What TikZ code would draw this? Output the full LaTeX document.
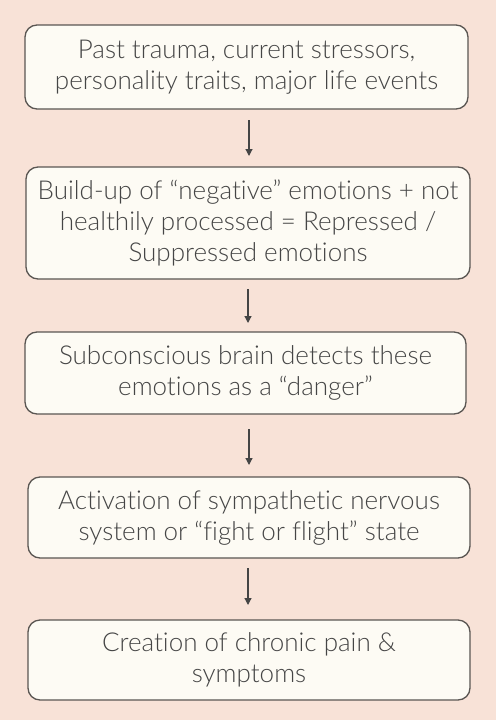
\documentclass[tikz,border=0pt]{standalone}
\usepackage{fontspec}
\setmainfont{Lato Light}[Ligatures=NoCommon]
\usetikzlibrary{arrows.meta}
\definecolor{bgpeach}{HTML}{F8E2D7}
\definecolor{boxfill}{HTML}{FDFBF4}
\definecolor{boxline}{HTML}{5A5652}
\definecolor{txt}{HTML}{454545}
\tikzset{
  stepbox/.style={draw=boxline, line width=1.3pt, fill=boxfill, rounded corners=12pt,
    text=txt, align=center, inner sep=0pt,
    font=\fontsize{26}{31}\selectfont},
  flowarrow/.style={draw=txt, line width=1.2pt, -{Triangle[length=7pt,width=7pt]}}
}
\begin{document}
\begin{tikzpicture}[x=1pt,y=-1pt]
\fill[bgpeach] (0,0) rectangle (496,720);
\useasboundingbox (0,0) rectangle (496,720);
\node[stepbox, minimum width=443pt, minimum height=84pt] (b1) at (246.5,67)
  {Past trauma, current stressors,\\personality traits, major life events};
\node[stepbox, minimum width=444pt, minimum height=112pt] (b2) at (248,223)
  {Build-up of “negative” emotions + not\\healthily processed = Repressed /\\Suppressed emotions};
\node[stepbox, minimum width=441pt, minimum height=82pt] (b3) at (245.5,373)
  {Subconscious brain detects these\\emotions as a “danger”};
\node[stepbox, minimum width=442pt, minimum height=81pt] (b4) at (249,517.5)
  {Activation of sympathetic nervous\\system or “fight or flight” state};
\node[stepbox, minimum width=442pt, minimum height=80pt] (b5) at (249,660)
  {Creation of chronic pain \&\\symptoms};
\draw[flowarrow] (249,120) coordinate (a1s) -- (249,156) coordinate (a1e);
\draw[flowarrow] (248,289) coordinate (a2s) -- (248,323) coordinate (a2e);
\draw[flowarrow] (249,429) coordinate (a3s) -- (249,465) coordinate (a3e);
\draw[flowarrow] (248,568) coordinate (a4s) -- (248,605) coordinate (a4e);
\end{tikzpicture}
\end{document}
